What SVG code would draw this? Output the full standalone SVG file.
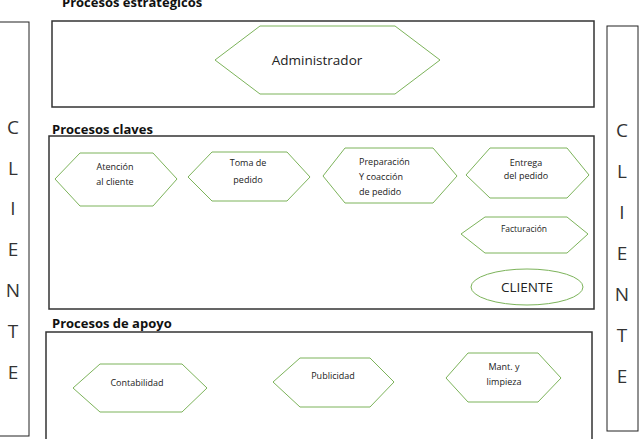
<svg xmlns="http://www.w3.org/2000/svg" width="642" height="439" viewBox="0 0 642 439">
<style>
.box{fill:none;stroke:#333;stroke-width:1.5}
.cbox{fill:none;stroke:#222;stroke-width:1}
.hex{fill:#fff;stroke:#7cb35a;stroke-width:1}
.t{font-family:"Open Sans","Liberation Sans",sans-serif;fill:#222;text-anchor:middle}
.ts{font-family:"Open Sans","Liberation Sans",sans-serif;fill:#222;text-anchor:start;font-size:9px}
.s{font-size:9px}
.title{font-family:"Open Sans","Liberation Sans",sans-serif;font-weight:bold;font-size:13px;fill:#111}
.letter{font-family:"Open Sans","Liberation Sans",sans-serif;font-size:19px;fill:#333;text-anchor:middle}
</style>
<rect width="642" height="439" fill="#fff"/>
<g id="cliente-left">
<rect class="cbox" x="-1" y="22" width="30" height="414"/>
<text class="letter" x="13" y="134">C</text>
<text class="letter" x="13" y="175">L</text>
<text class="letter" x="13" y="215">I</text>
<text class="letter" x="13" y="256">E</text>
<text class="letter" x="13" y="297">N</text>
<text class="letter" x="13" y="338">T</text>
<text class="letter" x="13" y="379">E</text>
</g>
<g id="cliente-right">
<rect class="cbox" x="607" y="26" width="31" height="405"/>
<text class="letter" x="622" y="137">C</text>
<text class="letter" x="622" y="178">L</text>
<text class="letter" x="622" y="219">I</text>
<text class="letter" x="622" y="260">E</text>
<text class="letter" x="622" y="301">N</text>
<text class="letter" x="622" y="342">T</text>
<text class="letter" x="622" y="383">E</text>
</g>
<g id="estrategicos">
<text class="title" x="62" y="7">Procesos estratégicos</text>
<rect class="box" x="52" y="21" width="542" height="86"/>
</g>
<g id="administrador">
<polygon class="hex" points="215,60 260,26 395,26 440,60 395,94 260,94"/>
<text class="t" x="317" y="65" font-size="13.5">Administrador</text>
</g>
<g id="claves">
<text class="title" x="52" y="134">Procesos claves</text>
<rect class="box" x="49" y="136" width="545" height="173"/>
</g>
<g id="atencion">
<polygon class="hex" points="55,179 80,153 153,153 177,179 153,206 80,206"/>
<text class="t s" x="115" y="170">Atención</text>
<text class="t s" x="115" y="185">al cliente</text>
</g>
<g id="toma">
<polygon class="hex" points="188,177 212,152 287,152 310,177 287,201 212,201"/>
<text class="t s" x="248" y="166">Toma de</text>
<text class="t s" x="248" y="183">pedido</text>
</g>
<g id="preparacion">
<polygon class="hex" points="323,176 345,148 433,148 457,176 433,203 345,203"/>
<text class="ts" x="359" y="165">Preparación</text>
<text class="ts" x="359" y="180">Y coacción</text>
<text class="ts" x="359" y="195">de pedido</text>
</g>
<g id="entrega">
<polygon class="hex" points="466,175 490,148 567,148 589,175 567,198 490,198"/>
<text class="t s" x="526" y="166">Entrega</text>
<text class="t s" x="526" y="179">del pedido</text>
</g>
<g id="facturacion">
<polygon class="hex" points="461,234 485,217 567,217 588,234 567,253 485,253"/>
<text class="t" x="524" y="232" font-size="8.5">Facturación</text>
</g>
<g id="cliente">
<ellipse class="hex" cx="527" cy="287" rx="56" ry="18"/>
<text class="t" x="527" y="292" font-size="13.5">CLIENTE</text>
</g>
<g id="apoyo">
<text class="title" x="52" y="328">Procesos de apoyo</text>
<rect class="box" x="46" y="332" width="546" height="115"/>
</g>
<g id="contabilidad">
<polygon class="hex" points="73,388 100,364 182,364 207,388 182,412 100,412"/>
<text class="t s" x="137" y="386">Contabilidad</text>
</g>
<g id="publicidad">
<polygon class="hex" points="273,382 300,358 370,358 394,382 370,407 300,407"/>
<text class="t s" x="333" y="379">Publicidad</text>
</g>
<g id="mant">
<polygon class="hex" points="446,378 468,353 538,353 561,378 538,402 468,402"/>
<text class="t s" x="504" y="370">Mant. y</text>
<text class="t s" x="504" y="385">limpieza</text>
</g>
<g id="connectors"></g>
</svg>
